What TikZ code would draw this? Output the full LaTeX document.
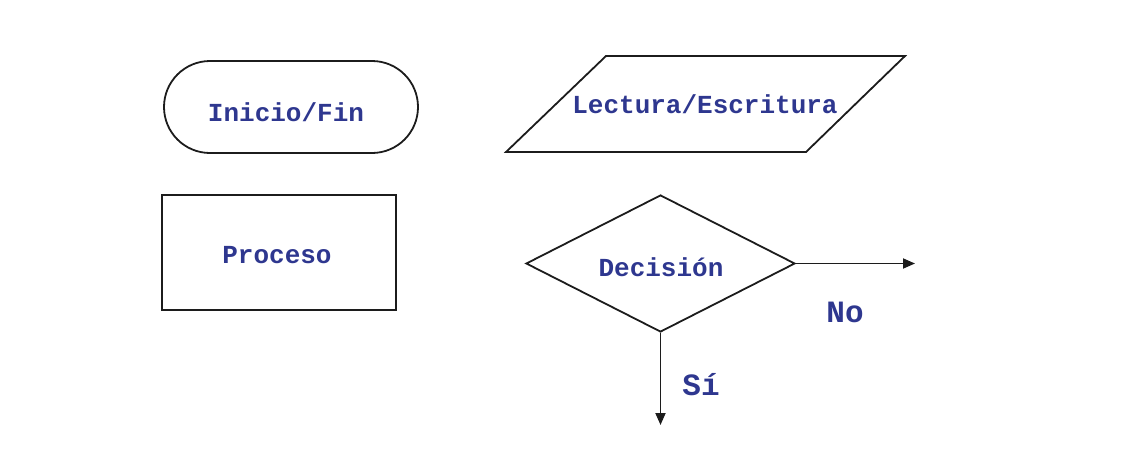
\documentclass[tikz,border=0pt]{standalone}
\usepackage{fontspec}
\setmainfont{Liberation Mono}
\usetikzlibrary{shapes.geometric,shapes.misc,arrows.meta}
\definecolor{txtblue}{RGB}{46,55,143}
\definecolor{linegray}{RGB}{28,28,28}
\begin{document}
\begin{tikzpicture}[x=1pt,y=-1pt,
  shapeline/.style={draw=linegray,line width=1.8pt},
  lbl/.style={text=txtblue,font=\bfseries\fontsize{26}{30}\selectfont,anchor=base,inner sep=0pt},
  biglbl/.style={text=txtblue,font=\bfseries\fontsize{31}{36}\selectfont,anchor=base,inner sep=0pt},
  flowarrow/.style={draw=linegray,line width=1.8pt,-{Triangle[length=12pt,width=10pt]}}]
\useasboundingbox (0,0) rectangle (1138,466);
% terminal
\node[shapeline,rounded rectangle,minimum width=254pt,minimum height=92pt,inner sep=0pt] (term) at (291,107) {};
\node[lbl] (termtxt) at (286,121) {Inicio/Fin};
% parallelogram
\draw[shapeline] (606,56) coordinate (ptl) -- (905,56) coordinate (ptr) -- (806,152) coordinate (pbr) -- (506,152) coordinate (pbl) -- cycle;
\node[lbl] (iotxt) at (705,113) {Lectura/Escritura};
% process
\node[shapeline,rectangle,minimum width=234pt,minimum height=115pt,inner sep=0pt] (proc) at (279,252.5) {};
\node[lbl] (proctxt) at (277,263) {Proceso};
% decision
\node[shapeline,diamond,minimum width=269pt,minimum height=137pt,inner sep=0pt] (dec) at (660.5,263.5) {};
\node[lbl] (dectxt) at (661,276) {Decisión};
% connectors
\coordinate (noend) at (915,263.5);
\coordinate (siend) at (660.5,425);
\draw[flowarrow] (dec.east) -- (noend);
\draw[flowarrow] (dec.south) -- (siend);
\node[biglbl] (no) at (845,322) {No};
\node[biglbl] (si) at (701,395) {Sí};
\end{tikzpicture}
\end{document}
